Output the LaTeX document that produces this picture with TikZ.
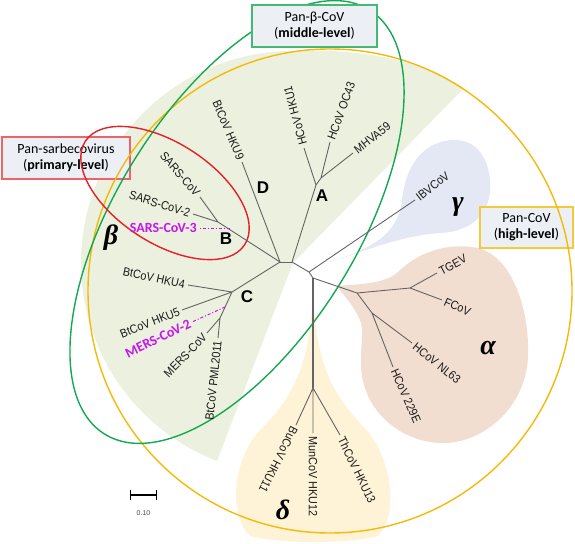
\documentclass[tikz,border=0pt]{standalone}
\usepackage{fontspec}
\setmainfont{Liberation Sans}
\newfontfamily\leaffont[FakeStretch=0.9]{Liberation Sans}
\newfontfamily\boxfont{Carlito}
\newfontfamily\grkfont{Liberation Serif}
\usepackage{tikz}
\usetikzlibrary{arrows.meta}

\definecolor{treegray}{RGB}{100,100,100}
\definecolor{betafill}{RGB}{235,241,222}
\definecolor{gammafill}{RGB}{228,232,244}
\definecolor{alphafill}{RGB}{242,222,208}
\definecolor{deltafill}{RGB}{254,243,214}
\definecolor{covyellow}{RGB}{244,186,10}
\definecolor{covgreen}{RGB}{20,168,80}
\definecolor{covred}{RGB}{228,32,40}
\definecolor{newmag}{RGB}{200,20,240}
\definecolor{boxfill}{RGB}{236,239,244}

\begin{document}
\begin{tikzpicture}[x=1pt, y=-1pt,
    branch/.style={treegray, line width=0.9pt},
    newline/.style={newmag, line width=1pt, dash dot},
    leaf/.style={font=\leaffont\fontsize{12}{14}\selectfont, text=black!90, inner sep=3pt},
    newcov/.style={newmag, font=\boxfont\fontsize{14}{16}\selectfont\bfseries, inner sep=2pt},
    clade/.style={font=\fontsize{17}{19}\selectfont\bfseries},
    grk/.style={font=\grkfont\fontsize{28}{30}\selectfont\bfseries\itshape},
    panbox/.style={font=\boxfont\fontsize{14}{16}\selectfont, align=center, fill=boxfill, line width=1.2pt, inner sep=0pt}]
  \useasboundingbox (0,0) rectangle (575,543);

  % group shading
  \coordinate (S) at (293,263);
  \fill[betafill] (S) -- (464,88) .. controls (420,58) and (350,48) .. (293,51)
    arc[start angle=-90, end angle=-249, radius=212] -- cycle;
  \fill[gammafill] (330,262) .. controls (365,250) and (398,238) .. (402,200)
    .. controls (406,160) and (428,140) .. (455,140)
    .. controls (482,140) and (492,168) .. (490,192)
    .. controls (487,220) and (465,232) .. (440,233)
    .. controls (400,236) and (368,250) .. (330,262) -- cycle;
  \fill[alphafill] (336,286) .. controls (360,284) and (385,284) .. (398,272)
    .. controls (418,252) and (448,242) .. (478,248)
    .. controls (515,258) and (530,315) .. (528,358)
    .. controls (525,410) and (480,445) .. (440,443)
    .. controls (395,441) and (360,405) .. (361,362)
    .. controls (361,340) and (364,330) .. (360,320)
    .. controls (355,308) and (345,296) .. (336,286) -- cycle;
  \fill[deltafill] (313,292) .. controls (316,360) and (330,392) .. (362,425)
    .. controls (392,455) and (400,515) .. (378,536)
    .. controls (350,544) and (278,544) .. (250,536)
    .. controls (228,515) and (232,458) .. (262,428)
    .. controls (296,394) and (310,360) .. (313,292) -- cycle;

  % level boxes
  \node[panbox, draw=covred!70, minimum width=128, minimum height=42] (sarbox) at (66,158) {Pan-sarbecovirus\\(\textbf{primary-level})};
  \node[panbox, draw=covyellow!80, minimum width=93, minimum height=41] (covbox) at (526.5,227.5) {Pan-CoV\\(\textbf{high-level})};

  % level rings
  \coordinate (Pc) at (330,291);
  \coordinate (Pb) at (237,222);
  \coordinate (Ps) at (165,193);
  \draw[covyellow, line width=1.4pt] (Pc) circle[radius=242];
  \draw[covgreen, line width=1.4pt, rotate around={58:(Pb)}] (Pb) ellipse[x radius=250, y radius=120];
  \draw[covred, line width=1.4pt, rotate around={-33:(Ps)}] (Ps) ellipse[x radius=95, y radius=50];

  \node[panbox, draw=covgreen!80, minimum width=125, minimum height=42] (betabox) at (314.5,26) {Pan-β-CoV\\(\textbf{middle-level})};

  % tree
  \coordinate (R1) at (280,262);
  \coordinate (R2) at (292,262);
  \coordinate (Bn) at (218,222);
  \coordinate (Cn) at (232,292);
  \coordinate (C2) at (220,318);
  \coordinate (An) at (316,185);
  \coordinate (A2) at (321,178);
  \coordinate (G1) at (309,272);
  \coordinate (Dl) at (313,278);
  \coordinate (Dd) at (313,388);
  \coordinate (Al1) at (357,293);
  \coordinate (Al2) at (410,288);
  \coordinate (Al3) at (372,313);

  \coordinate (sars1) at (200,197);
  \coordinate (sars2) at (193,214);
  \coordinate (hku9) at (242,162);
  \coordinate (hku1) at (304,148);
  \coordinate (oc43) at (330,142);
  \coordinate (mhv) at (353,153);
  \coordinate (hku4) at (188,285);
  \coordinate (hku5) at (182,310);
  \coordinate (mers) at (207,333);
  \coordinate (pml) at (218,338);
  \coordinate (ibv) at (415,200);
  \coordinate (tgev) at (437,273);
  \coordinate (fcov) at (442,300);
  \coordinate (nl63) at (412,343);
  \coordinate (e229) at (393,367);
  \coordinate (hku11) at (296,425);
  \coordinate (hku12) at (313,433);
  \coordinate (hku13) at (340,435);
  \coordinate (sars3) at (199,228);
  \coordinate (sars3b) at (230,228);
  \coordinate (mers2) at (192,322);
  \coordinate (mers2b) at (225,307);

  \draw[branch] (R1) -- (R2);
  \draw[branch] (R1) -- (Bn) -- (sars1) (Bn) -- (sars2);
  \draw[branch] (R1) -- (hku9);
  \draw[branch] (R1) -- (Cn) -- (hku4) (Cn) -- (hku5) (Cn) -- (C2) -- (mers) (C2) -- (pml);
  \draw[branch] (R2) -- (An) -- (hku1) (An) -- (A2) -- (oc43) (A2) -- (mhv);
  \draw[branch] (R2) -- (G1) -- (ibv) (G1) -- (Dl);
  \draw[branch] (Dl) -- (Al1) -- (Al2) -- (tgev) (Al2) -- (fcov) (Al1) -- (Al3) -- (nl63) (Al3) -- (e229);
  \draw[branch, line width=1.2pt] (Dl) -- (Dd);
  \draw[branch] (Dd) -- (hku11) (Dd) -- (hku12) (Dd) -- (hku13);
  \draw[newline] (sars3b) -- (sars3);
  \draw[newline] (mers2b) -- (mers2);

  % leaf names
  \node[leaf, anchor=east, rotate=-49] (tsars1) at (sars1) {SARS-CoV};
  \node[leaf, anchor=east, rotate=-17] (tsars2) at (sars2) {SARS-CoV-2};
  \node[leaf, anchor=east, rotate=-67] (thku9) at (hku9) {BtCoV HKU9};
  \node[leaf, anchor=west, rotate=105] (thku1) at (hku1) {HCoV HKU1};
  \node[leaf, anchor=west, rotate=70] (toc43) at (oc43) {HCoV OC43};
  \node[leaf, anchor=west, rotate=38] (tmhv) at (mhv) {MHVA59};
  \node[leaf, anchor=east, rotate=-12] (thku4) at (hku4) {BtCoV HKU4};
  \node[leaf, anchor=east, rotate=22] (thku5) at (hku5) {BtCoV HKU5};
  \node[leaf, anchor=east, rotate=46] (tmers) at (mers) {MERS-CoV};
  \node[leaf, anchor=east, rotate=84] (tpml) at (pml) {BtCoV PML2011};
  \node[leaf, anchor=west, rotate=38] (tibv) at (ibv) {IBVCoV};
  \node[leaf, anchor=west, rotate=28] (ttgev) at (tgev) {TGEV};
  \node[leaf, anchor=west, rotate=-24] (tfcov) at (fcov) {FCoV};
  \node[leaf, anchor=west, rotate=-39] (tnl63) at (nl63) {HCoV NL63};
  \node[leaf, anchor=west, rotate=-66] (te229) at (e229) {HCoV 229E};
  \node[leaf, anchor=west, rotate=-117] (thku11) at (hku11) {BuCoV HKU11};
  \node[leaf, anchor=west, rotate=-90] (thku12) at (hku12) {MunCoV HKU12};
  \node[leaf, anchor=west, rotate=-64] (thku13) at (hku13) {ThCoV HKU13};
  \node[newcov, anchor=east] (tsars3) at (sars3) {SARS-CoV-3};
  \node[newcov, anchor=east, rotate=26] (tmers2) at (mers2) {MERS-CoV-2};

  % clades and genera
  \node[clade] (cA) at (322,196) {A};
  \node[clade] (cB) at (226,239) {B};
  \node[clade] (cC) at (247,297) {C};
  \node[clade] (cD) at (263,188) {D};
  \node[grk] (gbeta) at (111,238) {β};
  \node[grk] (ggamma) at (458,207) {γ};
  \node[grk] (galpha) at (488,348) {α};
  \node[grk] (gdelta) at (283,510) {δ};

  % scale
  \coordinate (sc1) at (130,495);
  \coordinate (sc2) at (157,495);
  \draw[{Bar[width=10pt]}-{Bar[width=10pt]}, line width=1.4pt] (sc1) -- (sc2);
  \node[font=\fontsize{7}{8}\selectfont, text=black!70] (sclab) at (143.5,513) {0.10};
\end{tikzpicture}
\end{document}
